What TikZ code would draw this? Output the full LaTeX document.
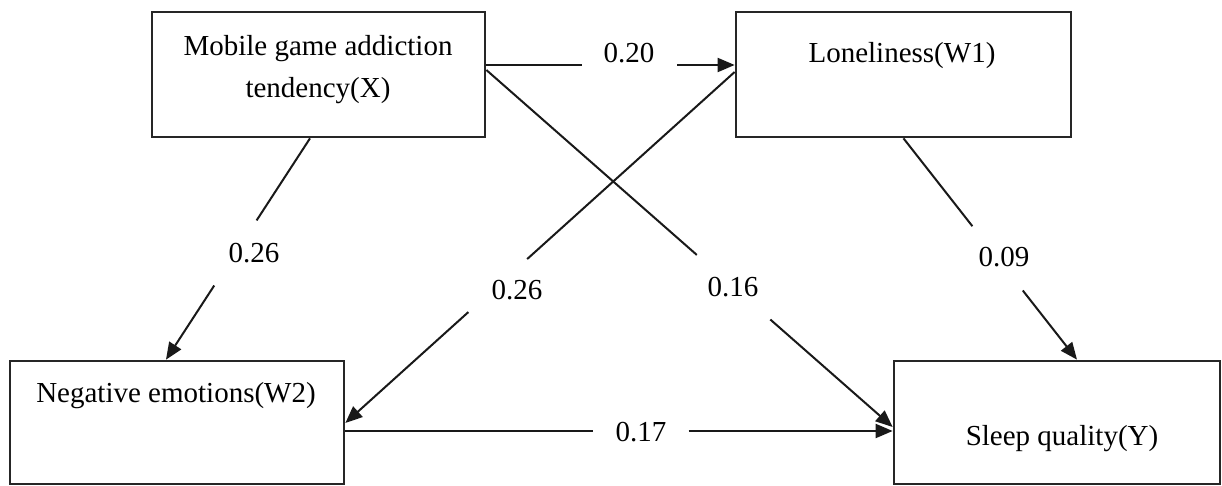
\documentclass[tikz,border=0pt]{standalone}
\usepackage{fontspec}
\setmainfont{Liberation Serif}
\usetikzlibrary{arrows.meta,calc}
\newcommand\gapline[5]{%
  \path #1 -- #2 coordinate[pos=#3] (g#5a) coordinate[pos=#4] (g#5b);
  \draw[conn] #1 -- (g#5a);
  \draw[conn,-{Triangle[length=8.5pt,width=7pt]}] (g#5b) -- #2;}
\begin{document}
\begin{tikzpicture}[x=0.5pt,y=-0.5pt,
  box/.style={draw=black!85, line width=1.35pt, inner sep=0pt},
  txt/.style={font=\fontsize{14.5pt}{21pt}\selectfont, inner sep=0pt, align=center},
  conn/.style={draw=black!90, line width=1pt}]
\useasboundingbox (0,0) rectangle (1222,486);
% boxes
\node[box, minimum width=166.5pt, minimum height=62.5pt] (X) at (318.5,74.5) {};
\node[box, minimum width=167.5pt, minimum height=62.5pt] (W1) at (903.5,74.5) {};
\node[box, minimum width=167pt, minimum height=61.5pt] (W2) at (177,422.5) {};
\node[box, minimum width=163pt, minimum height=61.5pt] (Y) at (1057,422.5) {};
% box texts
\node[txt, anchor=north] (Xt) at (318,35) {Mobile game addiction\\tendency(X)};
\node[txt, anchor=base] (W1t) at (902,63) {Loneliness(W1)};
\node[txt, anchor=base] (W2t) at (176,403) {Negative emotions(W2)};
\node[txt, anchor=base] (Yt) at (1062,445) {Sleep quality(Y)};
% labels
\node[txt, anchor=base] (l1) at (629,63) {0.20};
\node[txt, anchor=base] (l2) at (254,263) {0.26};
\node[txt, anchor=base] (l3) at (517,300) {0.26};
\node[txt, anchor=base] (l4) at (733,297) {0.16};
\node[txt, anchor=base] (l5) at (1004,267) {0.09};
\node[txt, anchor=base] (l6) at (641,442) {0.17};
% connectors
\gapline{($(X.east)+(0,-9.5)$)}{($(W1.west)+(0,-9.5)$)}{0.386}{0.769}{1}
\gapline{($(X.south)+(-8.5,0)$)}{($(W2.north)+(-11,0)$)}{0.371}{0.665}{2}
\gapline{($(W1.west)+(0,-2.5)$)}{($(W2.east)+(0,0.5)$)}{0.533}{0.684}{3}
\gapline{($(X.east)+(0,-4.5)$)}{($(Y.west)+(0,4.5)$)}{0.518}{0.699}{4}
\gapline{(W1.south)}{($(Y.north)+(20,0)$)}{0.397}{0.6875}{5}
\gapline{($(W2.east)+(0,8.5)$)}{($(Y.west)+(0,8.5)$)}{0.453}{0.627}{6}
\end{tikzpicture}
\end{document}
